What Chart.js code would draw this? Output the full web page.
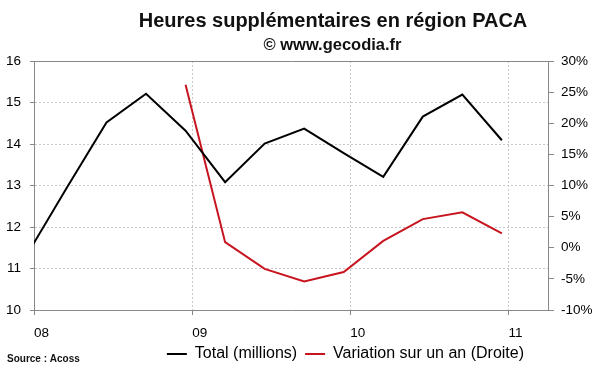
<!DOCTYPE html>
<html>
<head>
<meta charset="utf-8">
<script src="https://cdn.jsdelivr.net/npm/chart.js@4/dist/chart.umd.min.js"></script>
<style>
html,body{margin:0;padding:0;background:#ffffff;}
#wrap{width:600px;height:372px;position:relative;}
</style>
</head>
<body>
<div id="wrap"><canvas id="c" width="600" height="372"></canvas></div>
<script>
// ---- data ----
const quarters = ['2007-12','2008-03','2008-06','2008-09','2008-12','2009-03','2009-06','2009-09','2009-12','2010-03','2010-06','2010-09','2010-12'];
const totalMillions = [11.35, 12.95, 14.52, 15.21, 14.32, 13.08, 14.01, 14.37, 13.78, 13.21, 14.66, 15.19, 14.09];
const yoyVariation = [null, null, null, null, 26.2, 0.9, -3.4, -5.4, -3.9, 1.1, 4.6, 5.7, 2.3];
const xTickYears = [2008, 2009, 2010, 2011];
const xTickLabels = ['08', '09', '10', '11'];
const seriesNames = ['Total (millions)', 'Variation sur un an (Droite)'];
const titleText = 'Heures supplémentaires en région PACA';
const subtitleText = '© www.gecodia.fr';
const sourceText = 'Source : Acoss';

// ---- helpers ----
const toYear = q => { const [y, m] = q.split('-').map(Number); return y + (m - 0.5) / 12; };
const FONT = '"Liberation Sans", Arial, sans-serif';
const GRID = '#c8c8c8';
const AXIS = '#888888';

const totalPoints = quarters.map((q, i) => ({x: toYear(q), y: totalMillions[i]}));
const yoyPoints = quarters.map((q, i) => ({x: toYear(q), y: yoyVariation[i]})).filter(p => p.y !== null);

const textPlugin = {
  id: 'texts',
  afterDraw(chart) {
    const ctx = chart.ctx;
    ctx.save();
    ctx.fillStyle = '#111';
    ctx.textBaseline = 'alphabetic';
    ctx.textAlign = 'center';
    ctx.font = 'bold 20px ' + FONT;
    ctx.fillText(titleText, 333, 27);
    ctx.font = 'bold 16.5px ' + FONT;
    ctx.fillText(subtitleText, 332.5, 49.5);
    ctx.textAlign = 'left';
    ctx.font = 'bold 10px ' + FONT;
    ctx.fillText(sourceText, 7, 361.5);
    ctx.restore();
  }
};

const legendShift = {
  id: 'legendShift',
  afterLayout(chart) {
    const l = chart.legend;
    if (l) { l.left -= 16; l.right -= 16; }
  }
};

new Chart(document.getElementById('c'), {
  type: 'line',
  data: {
    datasets: [
      {
        label: seriesNames[0], data: totalPoints, xAxisID: 'x', yAxisID: 'y',
        borderColor: '#000000', backgroundColor: '#000000', borderWidth: 2,
        pointRadius: 0, tension: 0
      },
      {
        label: seriesNames[1], data: yoyPoints, xAxisID: 'x', yAxisID: 'y1',
        borderColor: '#c8141e', backgroundColor: '#c8141e', borderWidth: 2,
        pointRadius: 0, tension: 0
      }
    ]
  },
  options: {
    responsive: false,
    animation: false,
    devicePixelRatio: 1,
    layout: {padding: {top: 61, left: 0, right: 0, bottom: 0}},
    plugins: {
      title: {display: false},
      tooltip: {enabled: false},
      legend: {
        display: true, position: 'bottom', align: 'end', fullSize: false,
        labels: {
          usePointStyle: true, pointStyle: 'line', pointStyleWidth: 20, boxHeight: 16,
          font: {family: FONT, size: 16}, color: '#000', padding: 8
        }
      }
    },
    scales: {
      x: {
        type: 'linear', position: 'bottom', min: 2008, max: 2011.25,
        afterBuildTicks: s => { s.ticks = xTickYears.map(v => ({value: v})); },
        afterFit: s => { s.height = 28; },
        ticks: {
          callback: v => xTickLabels[xTickYears.indexOf(v)],
          align: 'start', padding: 10, maxRotation: 0, autoSkip: false,
          font: {family: FONT, size: 13.5}, color: '#000'
        },
        grid: {
          color: c => (c.tick && c.tick.value === 2008) ? 'rgba(0,0,0,0)' : GRID,
          lineWidth: 1, tickLength: 5, tickColor: AXIS, tickWidth: 1
        },
        border: {display: true, color: AXIS, width: 1, dash: [2, 2]}
      },
      xTop: {
        type: 'linear', position: 'top', min: 2008, max: 2011.25,
        ticks: {display: false},
        grid: {display: false, drawTicks: false},
        border: {display: true, color: AXIS, width: 1},
        afterFit: s => { s.height = 0; }
      },
      y: {
        position: 'left', min: 10, max: 16,
        afterFit: s => { s.width = 34; },
        ticks: {stepSize: 1, padding: 9, font: {family: FONT, size: 13.5}, color: '#000'},
        grid: {
          color: c => (c.tick && (c.tick.value === 10 || c.tick.value === 16)) ? 'rgba(0,0,0,0)' : GRID,
          lineWidth: 1, tickLength: 4, tickColor: AXIS, tickWidth: 1
        },
        border: {display: true, color: AXIS, width: 1, dash: [2, 2]}
      },
      y1: {
        position: 'right', min: -10, max: 30,
        afterFit: s => { s.width = 52; },
        ticks: {stepSize: 5, padding: 7, callback: v => v + '%', font: {family: FONT, size: 13.5}, color: '#000'},
        grid: {drawOnChartArea: false, tickLength: 6, tickColor: AXIS, tickWidth: 1},
        border: {display: true, color: AXIS, width: 1}
      }
    }
  },
  plugins: [textPlugin, legendShift]
});
</script>
</body>
</html>
